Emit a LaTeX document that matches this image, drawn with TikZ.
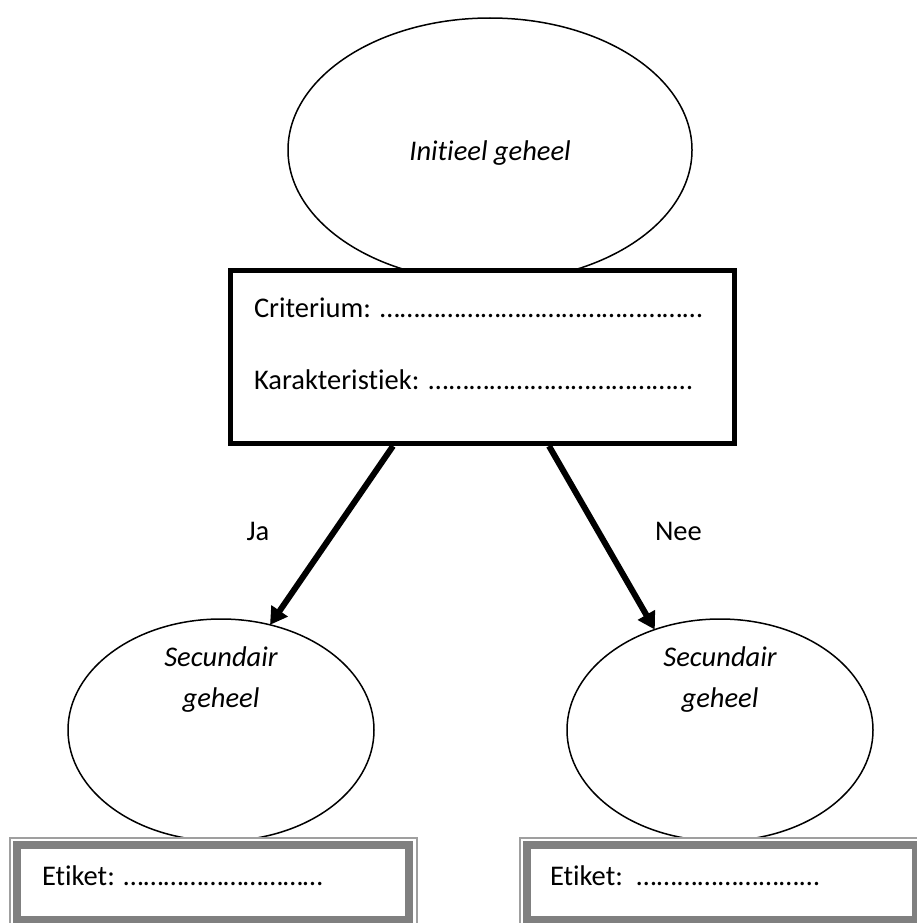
\documentclass[tikz,border=0pt]{standalone}
\usepackage{fontspec}
\setmainfont{Carlito}[Ligatures=NoCommon]
\usetikzlibrary{shapes.geometric,arrows.meta}
\newcommand{\fillline}[2]{\hbox to #1{#2\xleaders\hbox{…}\hfill}}
\begin{document}
\begin{tikzpicture}[x=1pt,y=-1pt,
  txt/.style={font=\fontsize{28.5}{34}\selectfont, inner sep=0pt, outer sep=0pt},
  itxt/.style={txt, font=\fontsize{28.5}{34}\selectfont\itshape},
  ell/.style={draw, ellipse, line width=1.5pt, inner sep=0pt, outer sep=0pt, fill=white},
  critbox/.style={draw, line width=5pt, fill=white, inner sep=0pt, outer sep=0pt},
  arr/.style={line width=6pt, -{Triangle[length=17pt,width=19pt]}},
  thinframe/.style={draw=gray!75, line width=2pt, fill=white},
  thickframe/.style={draw=gray, line width=8pt, fill=white}]
\useasboundingbox (0,0) rectangle (916,923);
\fill[white] (0,0) rectangle (916,923);

% top ellipse
\node[ell, minimum width=404pt, minimum height=264pt] (init) at (490,150) {};
\node[itxt, anchor=base] (inittxt) at (490,160) {Initieel geheel};

% criterion box
\node[critbox, minimum width=504pt, minimum height=173pt] (crit) at (482.5,357) {};
\node[txt, anchor=base west] (crittxt) at (254,317) {\fillline{449pt}{Criterium: }};
\node[txt, anchor=base west] (kartxt) at (254,389) {\fillline{439pt}{Karakteristiek: }};

% secondary ellipses
\node[ell, minimum width=306pt, minimum height=222pt] (lell) at (221,730) {};
\node[ell, minimum width=306pt, minimum height=222pt] (rell) at (720,730) {};
\node[itxt, anchor=base] (lsec) at (221,666) {Secundair};
\node[itxt, anchor=base] (lgeh) at (221,707) {geheel};
\node[itxt, anchor=base] (rsec) at (720,666) {Secundair};
\node[itxt, anchor=base] (rgeh) at (720,707) {geheel};

% arrows
\coordinate (jastart) at (393,446);
\coordinate (neestart) at (549,446);
\draw[arr] (jastart) -- (lell.65);
\draw[arr] (neestart) -- (rell.123);
\node[txt, anchor=base] (ja) at (258,540) {Ja};
\node[txt, anchor=base west] (nee) at (655,540) {Nee};

% label boxes
\draw[thinframe] (10,838) rectangle (417,930);
\draw[thickframe] (17,845) rectangle (409,920);
\draw[thinframe] (520,838) rectangle (925,930);
\draw[thickframe] (527,845) rectangle (916,920);
\node[txt, anchor=base west] (letiket) at (42,885) {\fillline{281pt}{Etiket: }};
\node[txt, anchor=base west] (retiket) at (550,885) {\fillline{270pt}{Etiket:\ \ }};
\end{tikzpicture}
\end{document}
